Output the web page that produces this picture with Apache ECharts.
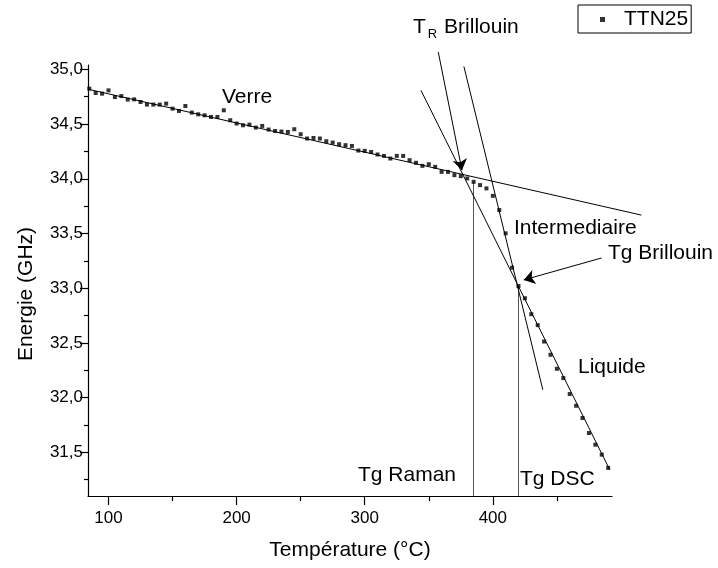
<!DOCTYPE html>
<html>
<head>
<meta charset="utf-8">
<script src="https://cdn.jsdelivr.net/npm/echarts@6/dist/echarts.min.js"></script>
<style>
  html, body { margin: 0; padding: 0; background: #fff; }
  #chart { width: 718px; height: 568px; }
</style>
</head>
<body>
<div id="chart"></div>
<script>
// Brillouin shift of TTN25 versus temperature
var temperatures = [
  85, 90, 95, 100, 105, 110, 115, 120, 125, 130, 135, 140, 145, 150, 155, 160,
  165, 170, 175, 180, 185, 190, 195, 200, 205, 210, 215, 220, 225, 230, 235, 240,
  245, 250, 255, 260, 265, 270, 275, 280, 285, 290, 295, 300, 305, 310, 315, 320,
  325, 330, 335, 340, 345, 350, 355, 360, 365, 370, 375, 380, 385, 390, 395, 400,
  405, 410, 415, 420, 425, 430, 435, 440, 445, 450, 455, 460, 465, 470, 475, 480,
  485, 490
];
var energies = [
  34.824, 34.784, 34.778, 34.808, 34.747, 34.756, 34.724, 34.726, 34.702, 34.678,
  34.678, 34.678, 34.687, 34.641, 34.620, 34.665, 34.605, 34.589, 34.580, 34.565,
  34.565, 34.626, 34.535, 34.505, 34.489, 34.495, 34.468, 34.483, 34.450, 34.437,
  34.432, 34.428, 34.453, 34.407, 34.368, 34.373, 34.368, 34.343, 34.331, 34.316,
  34.307, 34.300, 34.258, 34.255, 34.245, 34.222, 34.209, 34.185, 34.209, 34.209,
  34.170, 34.146, 34.118, 34.133, 34.109, 34.063, 34.063, 34.033, 34.024, 34.003,
  33.972, 33.942, 33.912, 33.844, 33.714, 33.501, 33.187, 33.020, 32.908, 32.762,
  32.662, 32.512, 32.391, 32.263, 32.178, 32.032, 31.925, 31.813, 31.676, 31.569,
  31.478, 31.357
];

// tangent lines [[T1, E1], [T2, E2]]
var lineVerre = [[84.4, 34.818], [515.9, 33.668]];
var lineLiquide = [[343.9, 34.808], [491.2, 31.341]];
var lineIntermediaire = [[377.4, 35.027], [439.0, 32.071]];

// annotation arrows [[from], [to]]
var arrowTR = [[357.4, 35.158], [375.9, 34.078]];
var arrowTgBrillouin = [[484.9, 33.276], [424.1, 33.075]];

// vertical markers: Tg Raman and Tg DSC
var tgRaman = 385, tgRamanTop = 33.972;
var tgDSC = 420, tgDSCTop = 33.020;

var xMin = 84, xMax = 493;
var yMin = 31.1, yMax = 35.04;
var xMajor = [100, 200, 300, 400];
var xMinor = [150, 250, 350, 450];
var yMajor = [31.5, 32.0, 32.5, 33.0, 33.5, 34.0, 34.5, 35.0];
var yMinor = [31.25, 31.75, 32.25, 32.75, 33.25, 33.75, 34.25, 34.75];

var FONT = '"Liberation Sans", Arial, sans-serif';
var NOTE = '21px ' + FONT;

var points = temperatures.map(function (t, i) { return [t, energies[i]]; });

function seg(p) { return { coords: p }; }

var chart = echarts.init(document.getElementById('chart'), null, { renderer: 'canvas' });

var axisLine = { show: true, lineStyle: { color: '#000', width: 1.2 } };

chart.setOption({
  animation: false,
  backgroundColor: '#fff',
  textStyle: { fontFamily: FONT },
  grid: { left: 88, right: 106, top: 65, bottom: 72, containLabel: false },
  legend: {
    left: 578, top: 5,
    data: ['TTN25'],
    icon: 'rect',
    itemWidth: 5, itemHeight: 5,
    borderColor: '#000', borderWidth: 1, borderRadius: 0,
    padding: [4, 3, 3, 22],
    textStyle: { fontFamily: FONT, fontSize: 21, color: '#000', padding: [0, 0, 0, 14] }
  },
  xAxis: [{
    type: 'value', min: xMin, max: xMax,
    axisLine: axisLine,
    splitLine: { show: false },
    axisTick: { show: true, inside: false, length: 9, customValues: xMajor, lineStyle: { color: '#000', width: 1.2 } },
    axisLabel: { show: true, customValues: xMajor, fontSize: 17, color: '#000', margin: 14, fontFamily: FONT }
  }, {
    type: 'value', min: xMin, max: xMax, position: 'bottom',
    axisLine: { show: false },
    splitLine: { show: false },
    axisTick: { show: true, inside: false, length: 5, customValues: xMinor, lineStyle: { color: '#000', width: 1.2 } },
    axisLabel: { show: false }
  }],
  yAxis: [{
    type: 'value', min: yMin, max: yMax,
    axisLine: axisLine,
    splitLine: { show: false },
    axisTick: { show: true, inside: false, length: 8, customValues: yMajor, lineStyle: { color: '#000', width: 1.2 } },
    axisLabel: {
      show: true, customValues: yMajor, fontSize: 17, color: '#000', margin: 5, fontFamily: FONT,
      formatter: function (v) { return v.toFixed(1).replace('.', ','); }
    }
  }, {
    type: 'value', min: yMin, max: yMax, position: 'left',
    axisLine: { show: false },
    splitLine: { show: false },
    axisTick: { show: true, inside: false, length: 4, customValues: yMinor, lineStyle: { color: '#000', width: 1.2 } },
    axisLabel: { show: false }
  }],
  graphic: [
    { type: 'text', x: 26, y: 294, rotation: Math.PI / 2,
      style: { text: 'Energie (GHz)', font: NOTE, fill: '#000', align: 'center', verticalAlign: 'middle' } },
    { type: 'text', x: 350, y: 550,
      style: { text: 'Température (°C)', font: NOTE, fill: '#000', align: 'center', verticalAlign: 'middle' } },
    { type: 'text', x: 222, y: 97,
      style: { text: 'Verre', font: NOTE, fill: '#000', verticalAlign: 'middle' } },
    { type: 'text', x: 514, y: 228,
      style: { text: 'Intermediaire', font: NOTE, fill: '#000', verticalAlign: 'middle' } },
    { type: 'text', x: 608, y: 253,
      style: { text: 'Tg Brillouin', font: NOTE, fill: '#000', verticalAlign: 'middle' } },
    { type: 'text', x: 578, y: 367,
      style: { text: 'Liquide', font: NOTE, fill: '#000', verticalAlign: 'middle' } },
    { type: 'text', x: 358, y: 475,
      style: { text: 'Tg Raman', font: NOTE, fill: '#000', verticalAlign: 'middle' } },
    { type: 'text', x: 520, y: 479,
      style: { text: 'Tg DSC', font: NOTE, fill: '#000', verticalAlign: 'middle' } },
    { type: 'text', x: 413, y: 27,
      style: {
        text: '{a|T}{b|R}{a| Brillouin}', fill: '#000', verticalAlign: 'middle',
        rich: {
          a: { fontSize: 21, fontFamily: FONT, fill: '#000' },
          b: { fontSize: 13, fontFamily: FONT, fill: '#000', padding: [14, 1, 0, 2] }
        }
      } }
  ],
  series: [
    {
      name: 'TTN25', type: 'scatter', data: points,
      symbol: 'rect', symbolSize: 4,
      itemStyle: { color: '#000' }, z: 5
    },
    {
      name: 'tangentes', type: 'lines', coordinateSystem: 'cartesian2d', clip: false,
      data: [lineVerre, lineLiquide, lineIntermediaire].map(seg),
      lineStyle: { color: '#000', width: 1, opacity: 1 },
      symbol: ['none', 'none'], z: 3
    },
    {
      name: 'fleches', type: 'lines', coordinateSystem: 'cartesian2d', clip: false,
      data: [arrowTR, arrowTgBrillouin].map(seg),
      lineStyle: { color: '#000', width: 1, opacity: 1 },
      symbol: ['none', 'arrow'], symbolSize: [0, 11], z: 4
    },
    {
      name: 'Tg', type: 'lines', coordinateSystem: 'cartesian2d', clip: false,
      data: [
        [[tgRaman, tgRamanTop], [tgRaman, yMin]],
        [[tgDSC, tgDSCTop], [tgDSC, yMin]]
      ].map(seg),
      lineStyle: { color: '#555', width: 1, opacity: 1 },
      symbol: ['none', 'none'], z: 2
    }
  ]
});
</script>
</body>
</html>
